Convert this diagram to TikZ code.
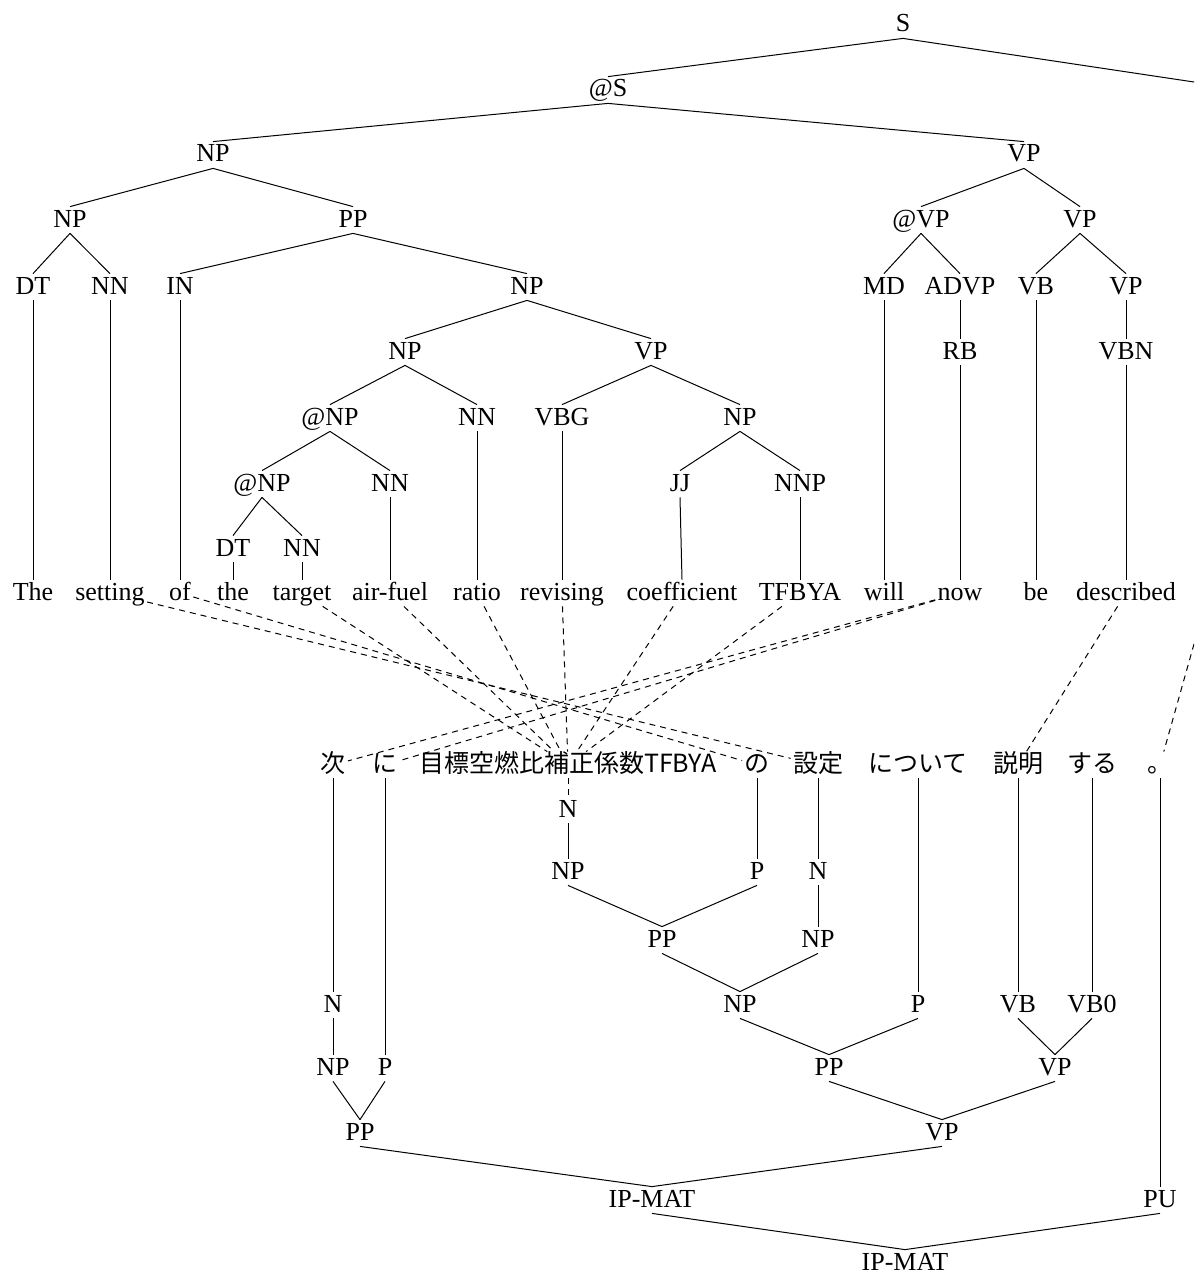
\documentclass[tikz,border=0pt]{standalone}
\usepackage{fontspec}
\setmainfont{Liberation Serif}
\newfontfamily\jafont{Noto Sans CJK JP}
\begin{document}
\begin{tikzpicture}[x=0.5pt,y=-0.5pt,
  lbl/.style={font=\fontsize{13}{15}\selectfont, inner sep=1pt, text height=9pt, text depth=2pt},
  jw/.style={font=\jafont\fontsize{12.5}{14}\selectfont, inner sep=1pt, text height=9pt, text depth=2pt},
  tedge/.style={draw, line width=0.5pt},
  align/.style={draw, line width=0.5pt, dash pattern=on 3pt off 2.5pt}]
\useasboundingbox (0,0) rectangle (1194,1279);
\clip (0,0) rectangle (1194,1279);
% English tree
\node[lbl] (eS) at (903,25) {S};
\node[lbl] (eAS) at (608,90) {@S};
\node[lbl] (eNP1) at (213,155) {NP};
\node[lbl] (eVP1) at (1024,155) {VP};
\node[lbl] (eNP2) at (70,220) {NP};
\node[lbl] (ePP) at (353,220) {PP};
\node[lbl] (eAVP) at (921,220) {@VP};
\node[lbl] (eVP2) at (1080,220) {VP};
\node[lbl] (eDT1) at (33,287) {DT};
\node[lbl] (eNN1) at (110,287) {NN};
\node[lbl] (eIN) at (180,287) {IN};
\node[lbl] (eNP3) at (527,287) {NP};
\node[lbl] (eMD) at (884,287) {MD};
\node[lbl] (eADVP) at (960,287) {ADVP};
\node[lbl] (eVB) at (1036,287) {VB};
\node[lbl] (eVP3) at (1126,287) {VP};
\node[lbl] (eNP4) at (405,352) {NP};
\node[lbl] (eVP4) at (651,352) {VP};
\node[lbl] (eRB) at (960,352) {RB};
\node[lbl] (eVBN) at (1126,352) {VBN};
\node[lbl] (eANP1) at (330,418) {@NP};
\node[lbl] (eNN2) at (477,418) {NN};
\node[lbl] (eVBG) at (562,418) {VBG};
\node[lbl] (eNP5) at (740,418) {NP};
\node[lbl] (eANP2) at (262,484) {@NP};
\node[lbl] (eNN3) at (390,484) {NN};
\node[lbl] (eJJ) at (680,484) {JJ};
\node[lbl] (eNNP) at (800,484) {NNP};
\node[lbl] (eDT2) at (233,549) {DT};
\node[lbl] (eNN4) at (302,549) {NN};
% English words
\node[lbl] (w1) at (33,593) {The};
\node[lbl] (w2) at (110,593) {setting};
\node[lbl] (w3) at (180,593) {of};
\node[lbl] (w4) at (233,593) {the};
\node[lbl] (w5) at (302,593) {target};
\node[lbl] (w6) at (390,593) {air-fuel};
\node[lbl] (w7) at (477,593) {ratio};
\node[lbl] (w8) at (562,593) {revising};
\node[lbl] (w9) at (682,593) {coefficient};
\node[lbl] (w10) at (800,593) {TFBYA};
\node[lbl] (w11) at (884,593) {will};
\node[lbl] (w12) at (960,593) {now};
\node[lbl] (w13) at (1036,593) {be};
\node[lbl] (w14) at (1126,593) {described};
\coordinate (sdot) at (1254,91);
\coordinate (wdot) at (1203,612);
% English edges
\path[tedge] (eS.south) -- (eAS.north);
\path[tedge] (eS.south) -- (sdot);
\path[tedge] (eAS.south) -- (eNP1.north);
\path[tedge] (eAS.south) -- (eVP1.north);
\path[tedge] (eNP1.south) -- (eNP2.north);
\path[tedge] (eNP1.south) -- (ePP.north);
\path[tedge] (eVP1.south) -- (eAVP.north);
\path[tedge] (eVP1.south) -- (eVP2.north);
\path[tedge] (eNP2.south) -- (eDT1.north);
\path[tedge] (eNP2.south) -- (eNN1.north);
\path[tedge] (ePP.south) -- (eIN.north);
\path[tedge] (ePP.south) -- (eNP3.north);
\path[tedge] (eAVP.south) -- (eMD.north);
\path[tedge] (eAVP.south) -- (eADVP.north);
\path[tedge] (eVP2.south) -- (eVB.north);
\path[tedge] (eVP2.south) -- (eVP3.north);
\path[tedge] (eNP3.south) -- (eNP4.north);
\path[tedge] (eNP3.south) -- (eVP4.north);
\path[tedge] (eADVP.south) -- (eRB.north);
\path[tedge] (eVP3.south) -- (eVBN.north);
\path[tedge] (eNP4.south) -- (eANP1.north);
\path[tedge] (eNP4.south) -- (eNN2.north);
\path[tedge] (eVP4.south) -- (eVBG.north);
\path[tedge] (eVP4.south) -- (eNP5.north);
\path[tedge] (eANP1.south) -- (eANP2.north);
\path[tedge] (eANP1.south) -- (eNN3.north);
\path[tedge] (eNP5.south) -- (eJJ.north);
\path[tedge] (eNP5.south) -- (eNNP.north);
\path[tedge] (eANP2.south) -- (eDT2.north);
\path[tedge] (eANP2.south) -- (eNN4.north);
\path[tedge] (eDT1.south) -- (w1.north);
\path[tedge] (eNN1.south) -- (w2.north);
\path[tedge] (eIN.south) -- (w3.north);
\path[tedge] (eDT2.south) -- (w4.north);
\path[tedge] (eNN4.south) -- (w5.north);
\path[tedge] (eNN3.south) -- (w6.north);
\path[tedge] (eNN2.south) -- (w7.north);
\path[tedge] (eVBG.south) -- (w8.north);
\path[tedge] (eJJ.south) -- (w9.north);
\path[tedge] (eNNP.south) -- (w10.north);
\path[tedge] (eMD.south) -- (w11.north);
\path[tedge] (eRB.south) -- (w12.north);
\path[tedge] (eVB.south) -- (w13.north);
\path[tedge] (eVBN.south) -- (w14.north);
% Japanese words
\node[jw] (j1) at (333,765) {次};
\node[jw] (j2) at (385,765) {に};
\node[jw] (j3) at (568,765) {目標空燃比補正係数TFBYA};
\node[jw] (j4) at (757,765) {の};
\node[jw] (j5) at (818,765) {設定};
\node[jw] (j6) at (918,765) {について};
\node[jw] (j7) at (1018,765) {説明};
\node[jw] (j8) at (1092,765) {する};
\node[jw] (j9) at (1160,765) {。};
% Japanese tree
\node[lbl] (jN1) at (568,810) {N};
\node[lbl] (jNP1) at (568,872) {NP};
\node[lbl] (jP1) at (757,872) {P};
\node[lbl] (jN2) at (818,872) {N};
\node[lbl] (jPP1) at (662,940) {PP};
\node[lbl] (jNP2) at (818,940) {NP};
\node[lbl] (jNP3) at (740,1005) {NP};
\node[lbl] (jP2) at (918,1005) {P};
\node[lbl] (jVB) at (1018,1005) {VB};
\node[lbl] (jVB0) at (1092,1005) {VB0};
\node[lbl] (jN3) at (333,1005) {N};
\node[lbl] (jNP4) at (333,1068) {NP};
\node[lbl] (jP3) at (385,1068) {P};
\node[lbl] (jPP2) at (829,1068) {PP};
\node[lbl] (jVP1) at (1055,1068) {VP};
\node[lbl] (jPP3) at (360,1133) {PP};
\node[lbl] (jVP2) at (942,1133) {VP};
\node[lbl] (jIP1) at (652,1200) {IP-MAT};
\node[lbl] (jPU) at (1160,1200) {PU};
\node[lbl] (jIP2) at (905,1263) {IP-MAT};
% Japanese edges
\path[align] (j3.south) -- (jN1.north);
\path[tedge] (jN1.south) -- (jNP1.north);
\path[tedge] (j4.south) -- (jP1.north);
\path[tedge] (j5.south) -- (jN2.north);
\path[tedge] (jN2.south) -- (jNP2.north);
\path[tedge] (jNP1.south) -- (jPP1.north);
\path[tedge] (jP1.south) -- (jPP1.north);
\path[tedge] (jPP1.south) -- (jNP3.north);
\path[tedge] (jNP2.south) -- (jNP3.north);
\path[tedge] (j6.south) -- (jP2.north);
\path[tedge] (j7.south) -- (jVB.north);
\path[tedge] (j8.south) -- (jVB0.north);
\path[tedge] (j1.south) -- (jN3.north);
\path[tedge] (jN3.south) -- (jNP4.north);
\path[tedge] (j2.south) -- (jP3.north);
\path[tedge] (jNP3.south) -- (jPP2.north);
\path[tedge] (jP2.south) -- (jPP2.north);
\path[tedge] (jVB.south) -- (jVP1.north);
\path[tedge] (jVB0.south) -- (jVP1.north);
\path[tedge] (jNP4.south) -- (jPP3.north);
\path[tedge] (jP3.south) -- (jPP3.north);
\path[tedge] (jPP2.south) -- (jVP2.north);
\path[tedge] (jVP1.south) -- (jVP2.north);
\path[tedge] (jPP3.south) -- (jIP1.north);
\path[tedge] (jVP2.south) -- (jIP1.north);
\path[tedge] (j9.south) -- (jPU.north);
\path[tedge] (jIP1.south) -- (jIP2.north);
\path[tedge] (jPU.south) -- (jIP2.north);
% alignment links
\path[align] (w2) -- (j5);
\path[align] (w3) -- (j4);
\path[align] (w5) -- (j3);
\path[align] (w6) -- (j3);
\path[align] (w7) -- (j3);
\path[align] (w8) -- (j3);
\path[align] (w9) -- (j3);
\path[align] (w10) -- (j3);
\path[align] (w12) -- (j1);
\path[align] (w12) -- (j2);
\path[align] (w14) -- (j7);
\path[align] (wdot) -- (j9);
\end{tikzpicture}
\end{document}
